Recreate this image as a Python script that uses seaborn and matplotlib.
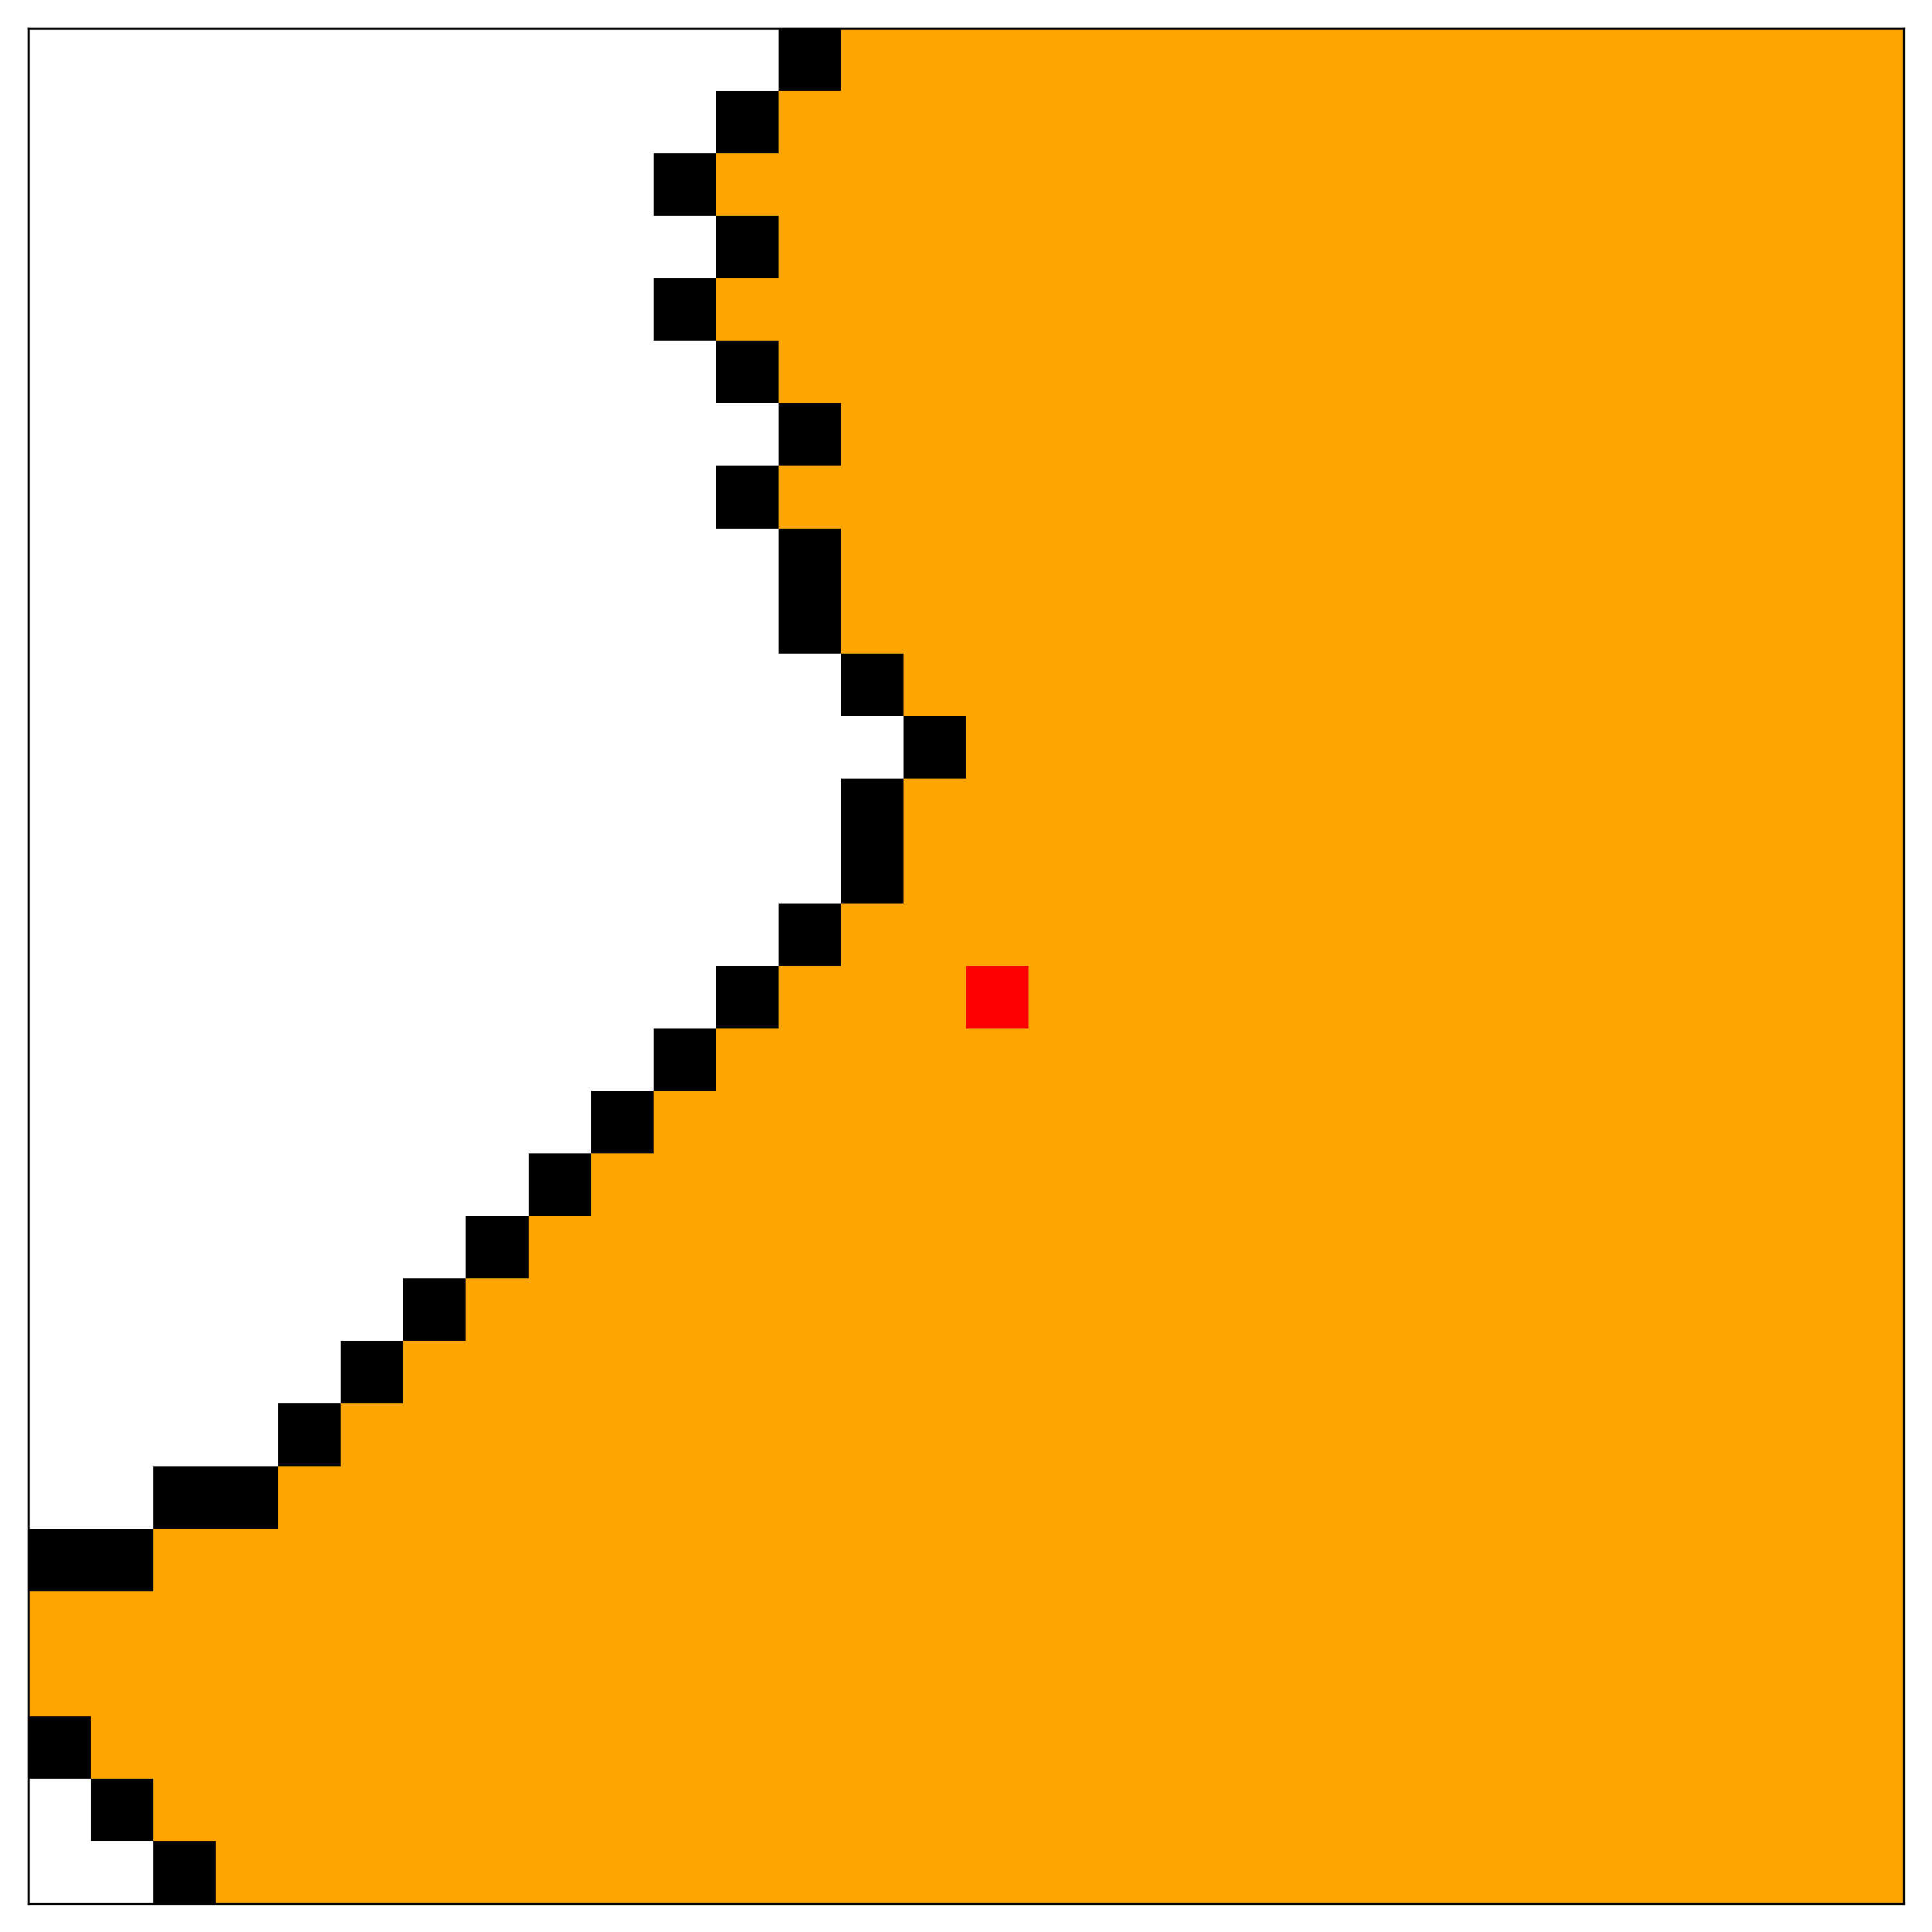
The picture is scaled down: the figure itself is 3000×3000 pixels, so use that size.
import numpy as np
import matplotlib
matplotlib.use("Agg")
import matplotlib.pyplot as plt
from matplotlib.colors import ListedColormap
import seaborn as sns

# 30x30 grid, one entry per row (top to bottom)
# cells [0, black_start) white, [black_start, black_end) black, rest orange
black_start = [12, 11, 10, 11, 10, 11, 12, 11, 12, 12,
               13, 14, 13, 13, 12, 11, 10, 9, 8, 7,
               6, 5, 4, 2, 0, 0, 0, 0, 1, 2]
black_end = [13, 12, 11, 12, 11, 12, 13, 12, 13, 13,
             14, 15, 14, 14, 13, 12, 11, 10, 9, 8,
             7, 6, 5, 4, 2, 0, 0, 1, 2, 3]
red_cell = (15, 15)  # (row, col)
n_cols = 30

PALETTE = ["#ffffff", "#ffa500", "#000000", "#ff0000"]

grid = np.ones((len(black_start), n_cols), dtype=int)
for r, (s, e) in enumerate(zip(black_start, black_end)):
    grid[r, :s] = 0
    grid[r, s:e] = 2
grid[red_cell] = 3

fig = plt.figure(figsize=(10, 10), dpi=300)
ax = fig.add_axes([44 / 3000, 44 / 3000, 2912 / 3000, 2912 / 3000])
sns.heatmap(grid, ax=ax, cmap=ListedColormap(PALETTE), vmin=-0.5, vmax=3.5,
            cbar=False, xticklabels=False, yticklabels=False, square=False)
for sp in ax.spines.values():
    sp.set_visible(True)
    sp.set_color("black")
    sp.set_linewidth(0.8)

fig.savefig("out.png", dpi=300, facecolor="white")
plt.close()
